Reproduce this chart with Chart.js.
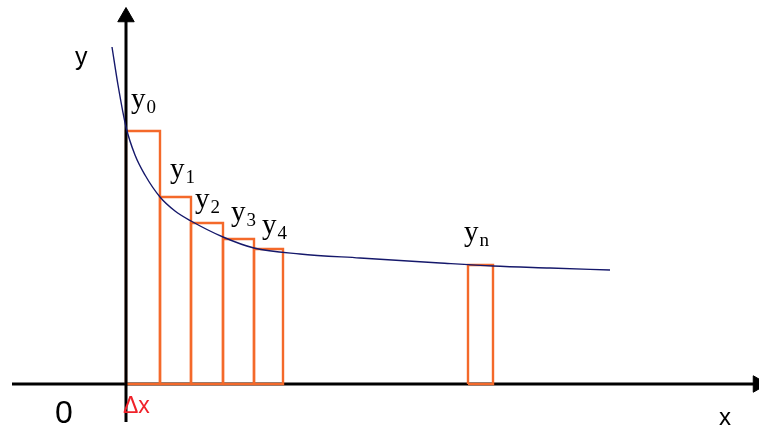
<!DOCTYPE html>
<html>
<head>
<meta charset="utf-8">
<script src="https://cdn.jsdelivr.net/npm/chart.js@4/dist/chart.umd.min.js"></script>
<style>
  html, body { margin: 0; padding: 0; background: #fff; overflow: hidden; }
  canvas { display: block; }
</style>
</head>
<body>
<canvas id="riemann" width="759" height="428"></canvas>
<script>
// step rectangles (units measured from the origin)
const stepLeft = [0, 34, 65, 97, 128, 342];
const stepRight = [34, 65, 97, 128, 157, 367];
const stepHeight = [253, 187, 161, 145, 135, 119];
const stepNames = ["0", "1", "2", "3", "4", "n"];

// the curve y = f(x)
const curveX = [-14, -8, 0, 9, 19, 34, 49, 65, 97, 128, 174, 234, 314, 367, 424, 484];
const curveY = [337, 299, 257, 229, 209, 187, 173, 163, 147, 136, 130, 126, 121, 118, 116, 114];

// axes
const xAxisEnds = [-114, 632];
const yAxisEnds = [-38, 367];

// where the labels go (pixels: left, baseline)
const stepLabelPos = [[131, 108], [170, 178], [195, 208], [231, 221], [262, 234], [464, 241]];

const orange = "#f4692a";
const navy = "#15186b";

const rectDatasets = stepLeft.map(function (l, i) {
  const r = stepRight[i];
  const h = stepHeight[i];
  return {
    data: [{x: l, y: 0}, {x: l, y: h}, {x: r, y: h}, {x: r, y: 0}, {x: l, y: 0}],
    borderColor: orange,
    borderWidth: 2.4,
    pointRadius: 0,
    tension: 0,
    fill: false,
    order: 2,
  };
});

const curveData = curveX.map(function (x, i) { return {x: x, y: curveY[i]}; });

const datasets = [
  {
    data: curveData,
    borderColor: navy,
    borderWidth: 1.4,
    pointRadius: 0,
    cubicInterpolationMode: "monotone",
    fill: false,
    order: 0,
  },
  {
    // y axis with arrow
    data: [{x: 0, y: yAxisEnds[0]}, {x: 0, y: yAxisEnds[1]}],
    borderColor: "#000",
    borderWidth: 3,
    pointStyle: "triangle",
    pointRadius: [0, 9.5],
    pointRotation: [0, 0],
    pointBackgroundColor: "#000",
    pointBorderColor: "#000",
    pointBorderWidth: 1,
    order: 1,
  },
].concat(rectDatasets).concat([
  {
    // x axis with arrow
    data: [{x: xAxisEnds[0], y: 0}, {x: xAxisEnds[1], y: 0}],
    borderColor: "#000",
    borderWidth: 3,
    pointStyle: "triangle",
    pointRadius: [0, 9.5],
    pointRotation: [0, 90],
    pointBackgroundColor: "#000",
    pointBorderColor: "#000",
    pointBorderWidth: 1,
    order: 3,
  },
]);

const labelPlugin = {
  id: "labels",
  afterDatasetsDraw: function (chart) {
    const c = chart.ctx;
    c.save();
    c.textBaseline = "alphabetic";
    c.textAlign = "left";
    c.fillStyle = "#000";
    stepLabelPos.forEach(function (p, i) {
      c.font = "29px 'Liberation Serif'";
      c.fillText("y", p[0], p[1]);
      const w = c.measureText("y").width;
      c.font = "19px 'Liberation Serif'";
      c.fillText(stepNames[i], p[0] + w + 1, p[1] + 5);
    });
    c.font = "25px 'Liberation Sans'";
    c.fillText("y", 75, 65);
    c.font = "24px 'Liberation Sans'";
    c.fillText("x", 719, 425);
    c.font = "32px 'Liberation Sans'";
    c.fillText("0", 55, 423);
    c.fillStyle = "#f0222a";
    c.font = "23px 'Liberation Sans'";
    c.fillText("\u0394x", 123, 413);
    c.restore();
  },
};

const config = {
  type: "line",
  data: {datasets: datasets},
  options: {
    responsive: false,
    animation: false,
    events: [],
    layout: {padding: 0, autoPadding: false},
    scales: {
      x: {type: "linear", display: false, min: -126, max: 633},
      y: {type: "linear", display: false, min: -44, max: 384},
    },
    plugins: {legend: {display: false}, tooltip: {enabled: false}},
    elements: {line: {borderJoinStyle: "miter"}},
    clip: false,
  },
  plugins: [labelPlugin],
};

const chart = new Chart(document.getElementById("riemann").getContext("2d"), config);
</script>
</body>
</html>
